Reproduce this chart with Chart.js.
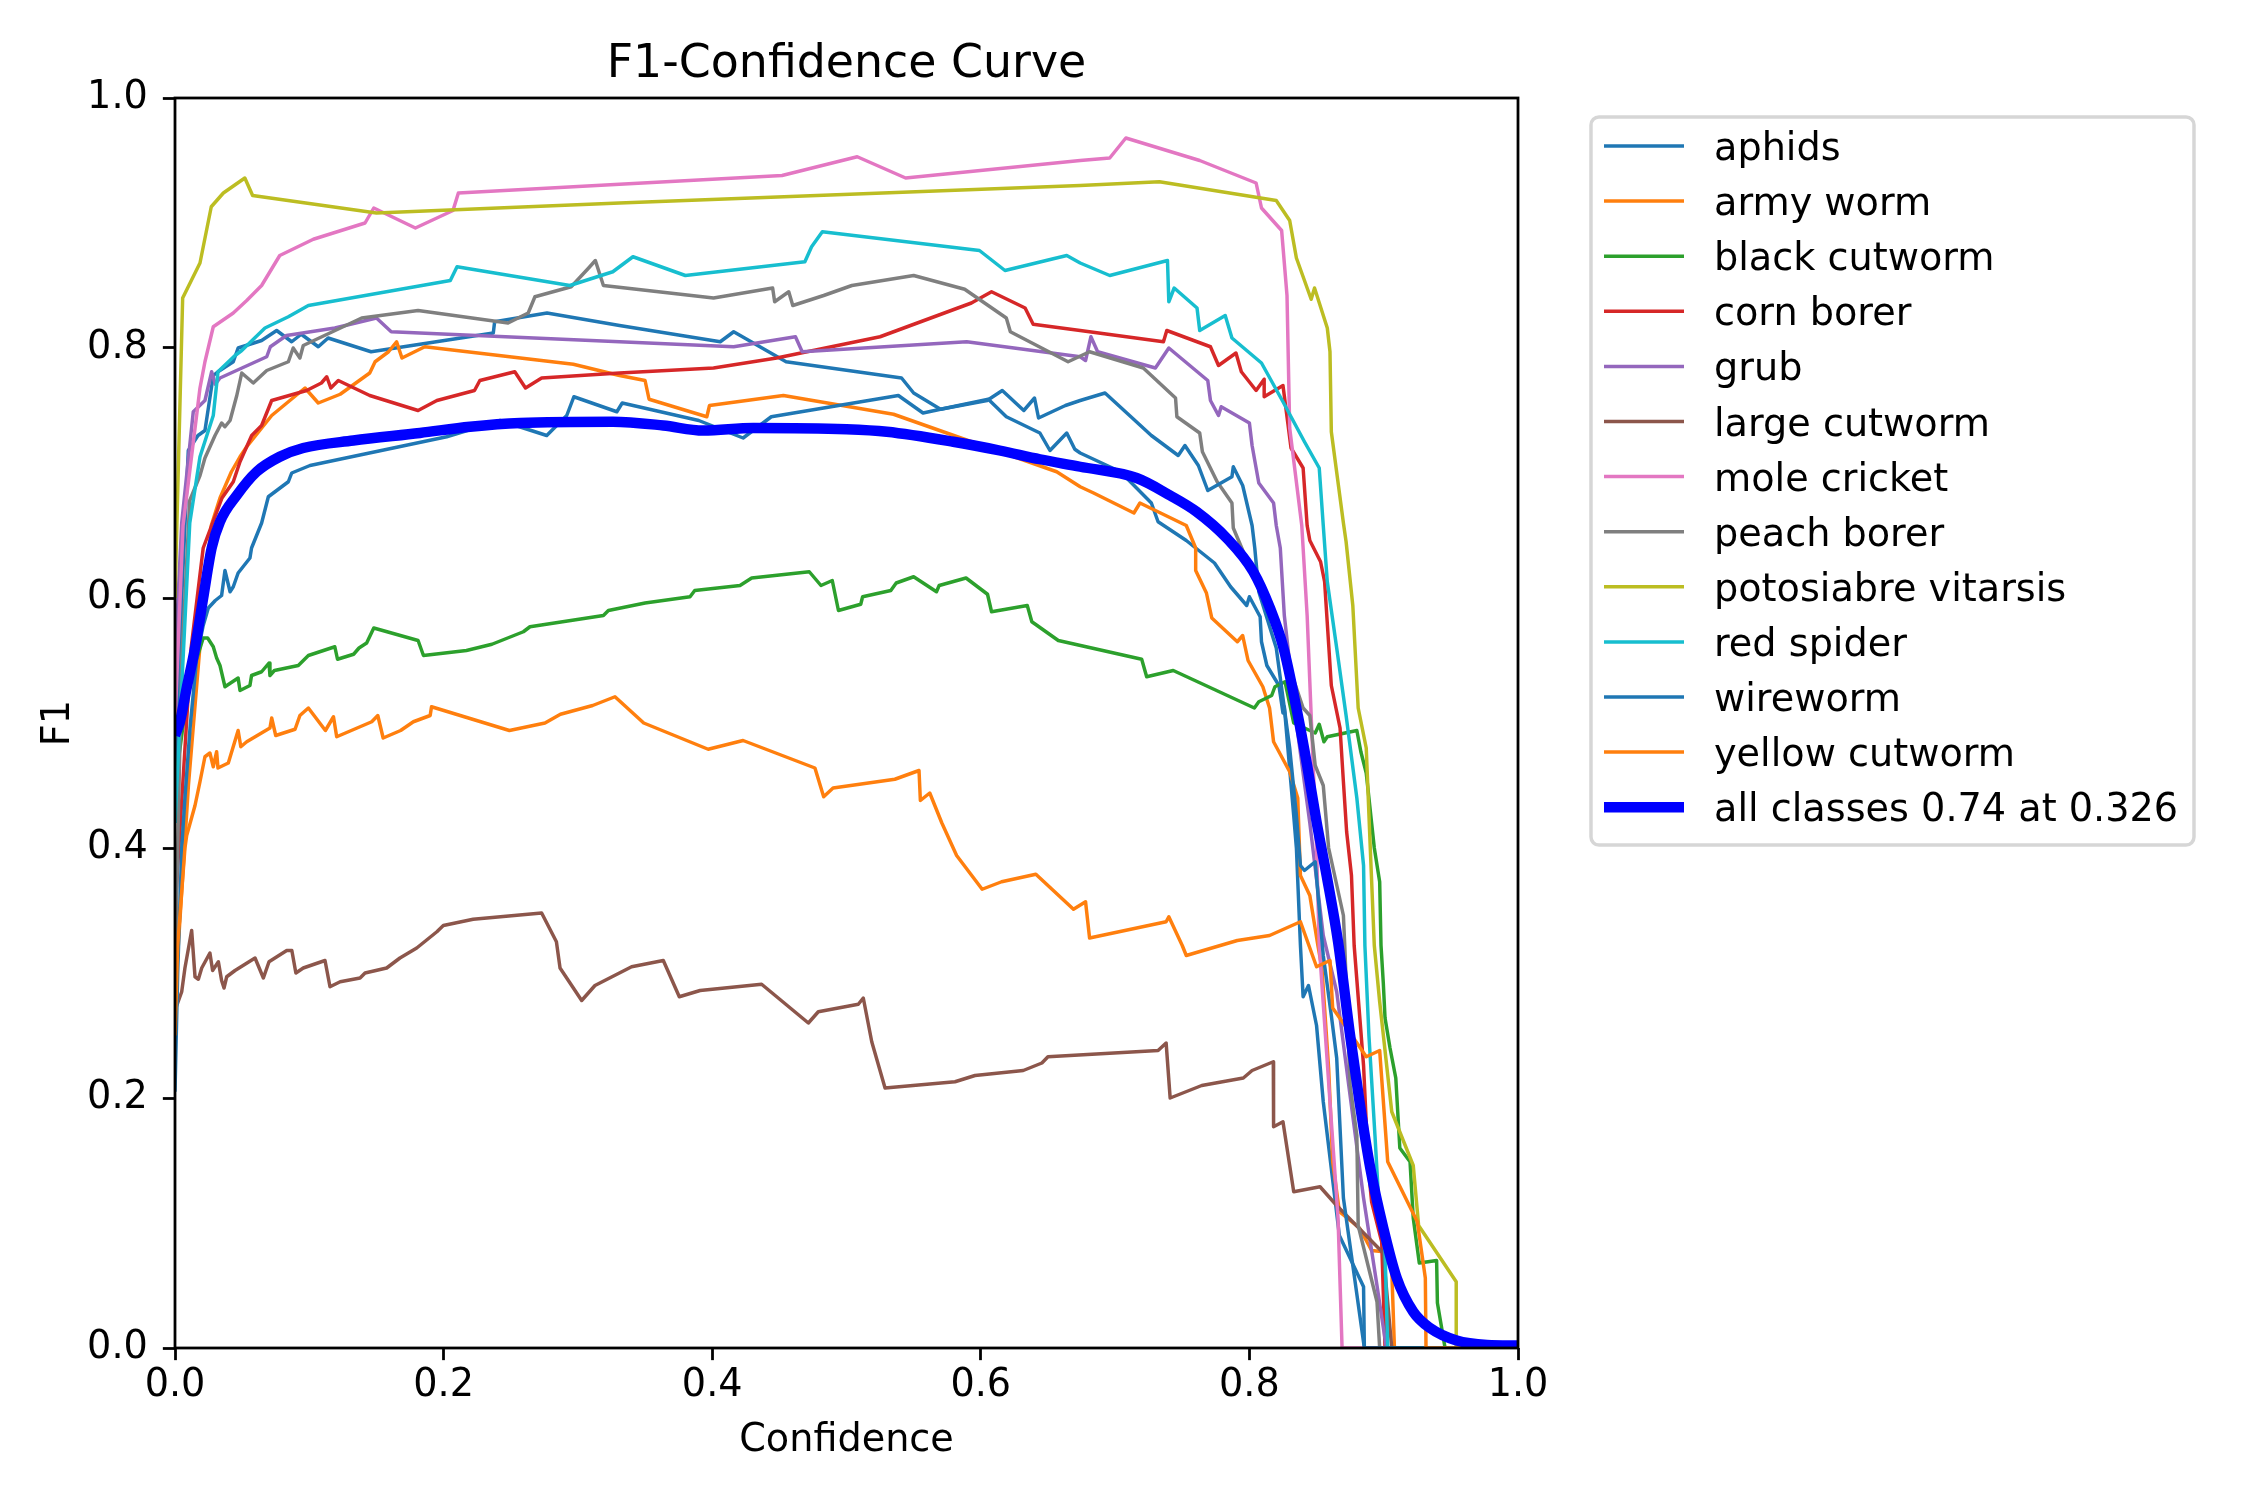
<!DOCTYPE html>
<html>
<head>
<meta charset="utf-8">
<script src="https://cdn.jsdelivr.net/npm/chart.js@4.4.1/dist/chart.umd.min.js"></script>
<style>
  html, body { margin: 0; padding: 0; background: #fff; }
  canvas { display: block; }
</style>
</head>
<body>
<canvas id="f1Chart" width="2250" height="1500"></canvas>
<script>
// classes, in the order of the legend (matplotlib tab10 cycle)
const classNames = ['aphids', 'army worm', 'black cutworm', 'corn borer', 'grub', 'large cutworm',
  'mole cricket', 'peach borer', 'potosiabre vitarsis', 'red spider', 'wireworm', 'yellow cutworm'];
const classColors = ['#1f77b4', '#ff7f0e', '#2ca02c', '#d62728', '#9467bd', '#8c564b',
  '#e377c2', '#7f7f7f', '#bcbd22', '#17becf', '#1f77b4', '#ff7f0e'];

// [confidence, F1]
const aphids = [[0,0.42],[0.005,0.60],[0.0099,0.718],[0.0171,0.730],[0.0223,0.734],[0.0285,0.778],[0.032,0.781],[0.0434,0.789],[0.047,0.800],[0.0645,0.806],[0.0757,0.814],[0.0869,0.805],[0.094,0.811],[0.1067,0.801],[0.114,0.808],[0.146,0.797],[0.237,0.812],[0.238,0.821],[0.277,0.828],[0.331,0.818],[0.406,0.805],[0.416,0.813],[0.455,0.789],[0.541,0.776],[0.550,0.764],[0.570,0.751],[0.6056,0.759],[0.619,0.745],[0.644,0.732],[0.6515,0.718],[0.664,0.732],[0.670,0.719],[0.674,0.716],[0.704,0.701],[0.727,0.676],[0.732,0.661],[0.753,0.646],[0.774,0.628],[0.786,0.609],[0.798,0.594],[0.800,0.601],[0.808,0.585],[0.809,0.565],[0.813,0.546],[0.822,0.530],[0.825,0.508],[0.826,0.513],[0.833,0.426],[0.835,0.400],[0.838,0.322],[0.840,0.281],[0.844,0.290],[0.850,0.258],[0.855,0.197],[0.867,0.090],[0.885,0.049],[0.8856,0],[1,0]];
const armyWorm = [[0,0.28],[0.01,0.45],[0.02,0.58],[0.027,0.658],[0.0335,0.680],[0.042,0.701],[0.0484,0.713],[0.0534,0.721],[0.072,0.746],[0.0968,0.768],[0.1067,0.756],[0.123,0.763],[0.145,0.780],[0.149,0.789],[0.159,0.797],[0.165,0.805],[0.169,0.792],[0.186,0.801],[0.2966,0.787],[0.331,0.778],[0.350,0.774],[0.353,0.759],[0.396,0.745],[0.398,0.754],[0.453,0.762],[0.535,0.747],[0.6565,0.701],[0.674,0.689],[0.684,0.684],[0.714,0.668],[0.7185,0.676],[0.753,0.658],[0.760,0.640],[0.760,0.622],[0.768,0.604],[0.772,0.584],[0.791,0.565],[0.795,0.570],[0.799,0.550],[0.810,0.529],[0.815,0.512],[0.818,0.485],[0.830,0.461],[0.836,0.440],[0.838,0.378],[0.845,0.362],[0.851,0.322],[0.854,0.304],[0.859,0.224],[0.862,0.149],[0.867,0.109],[0.882,0.096],[0.891,0.078],[0.900,0.077],[0.906,0.063],[0.908,0],[1,0]];
const blackCutworm = [[0,0.45],[0.01,0.53],[0.021,0.568],[0.0243,0.568],[0.0285,0.561],[0.031,0.552],[0.0335,0.546],[0.0372,0.529],[0.047,0.536],[0.0484,0.526],[0.0558,0.530],[0.057,0.538],[0.0645,0.541],[0.070,0.548],[0.0707,0.538],[0.074,0.542],[0.0918,0.546],[0.0993,0.554],[0.119,0.561],[0.121,0.551],[0.133,0.555],[0.137,0.560],[0.1427,0.564],[0.148,0.576],[0.181,0.566],[0.185,0.554],[0.217,0.558],[0.236,0.563],[0.2594,0.573],[0.2643,0.577],[0.319,0.586],[0.3227,0.590],[0.350,0.596],[0.3835,0.601],[0.387,0.606],[0.4207,0.610],[0.4294,0.616],[0.4723,0.621],[0.481,0.610],[0.4894,0.614],[0.494,0.590],[0.5106,0.595],[0.512,0.601],[0.533,0.606],[0.537,0.612],[0.550,0.617],[0.567,0.605],[0.569,0.610],[0.589,0.616],[0.605,0.603],[0.608,0.589],[0.6346,0.594],[0.638,0.581],[0.6577,0.566],[0.7198,0.551],[0.7235,0.537],[0.7433,0.542],[0.8037,0.512],[0.807,0.517],[0.8166,0.522],[0.819,0.529],[0.8265,0.533],[0.833,0.50],[0.849,0.492],[0.852,0.499],[0.8555,0.485],[0.858,0.489],[0.880,0.494],[0.883,0.477],[0.887,0.460],[0.891,0.42],[0.893,0.400],[0.897,0.373],[0.898,0.322],[0.8997,0.292],[0.901,0.264],[0.9047,0.240],[0.909,0.216],[0.912,0.160],[0.9196,0.149],[0.922,0.104],[0.9265,0.068],[0.9394,0.070],[0.940,0.036],[0.9457,0],[1,0]];
const cornBorer = [[0,0.35],[0.012,0.56],[0.021,0.640],[0.035,0.68],[0.0434,0.693],[0.0484,0.709],[0.0571,0.730],[0.0645,0.738],[0.072,0.758],[0.098,0.766],[0.109,0.772],[0.113,0.777],[0.116,0.768],[0.1216,0.774],[0.145,0.762],[0.181,0.750],[0.195,0.758],[0.223,0.766],[0.227,0.774],[0.253,0.781],[0.261,0.768],[0.273,0.776],[0.331,0.780],[0.401,0.784],[0.448,0.792],[0.525,0.809],[0.593,0.836],[0.608,0.845],[0.633,0.832],[0.639,0.819],[0.674,0.814],[0.736,0.805],[0.7385,0.814],[0.771,0.801],[0.777,0.786],[0.790,0.796],[0.794,0.781],[0.805,0.766],[0.811,0.775],[0.811,0.761],[0.825,0.770],[0.831,0.720],[0.840,0.704],[0.843,0.658],[0.845,0.646],[0.853,0.629],[0.856,0.613],[0.861,0.530],[0.8675,0.496],[0.870,0.453],[0.8724,0.413],[0.876,0.378],[0.878,0.322],[0.885,0.226],[0.8886,0.144],[0.891,0.117],[0.8985,0.085],[0.901,0],[1,0]];
const grub = [[0,0.55],[0.005,0.66],[0.0136,0.749],[0.0223,0.758],[0.0273,0.781],[0.030,0.771],[0.0335,0.776],[0.0683,0.793],[0.071,0.801],[0.083,0.810],[0.119,0.816],[0.150,0.824],[0.161,0.813],[0.331,0.805],[0.416,0.801],[0.462,0.809],[0.467,0.797],[0.5895,0.805],[0.674,0.793],[0.678,0.790],[0.682,0.809],[0.687,0.797],[0.730,0.784],[0.740,0.800],[0.769,0.774],[0.771,0.758],[0.777,0.746],[0.779,0.753],[0.800,0.740],[0.802,0.722],[0.807,0.692],[0.818,0.676],[0.820,0.658],[0.823,0.640],[0.826,0.586],[0.835,0.50],[0.845,0.42],[0.855,0.33],[0.865,0.285],[0.874,0.210],[0.885,0.12],[0.895,0.05],[0.902,0],[1,0]];
const largeCutworm = [[0,0.27],[0.005,0.285],[0.0074,0.304],[0.0124,0.334],[0.0149,0.297],[0.0174,0.295],[0.0199,0.304],[0.026,0.316],[0.028,0.302],[0.0323,0.309],[0.0347,0.294],[0.0365,0.288],[0.0385,0.297],[0.0447,0.302],[0.0596,0.312],[0.0658,0.296],[0.070,0.309],[0.0832,0.318],[0.087,0.318],[0.090,0.300],[0.0955,0.304],[0.1117,0.310],[0.1154,0.289],[0.123,0.293],[0.1378,0.296],[0.1415,0.300],[0.1576,0.304],[0.1675,0.312],[0.180,0.320],[0.195,0.333],[0.1998,0.338],[0.222,0.343],[0.273,0.348],[0.284,0.325],[0.2867,0.304],[0.3028,0.278],[0.3127,0.290],[0.340,0.305],[0.3636,0.310],[0.3755,0.281],[0.391,0.286],[0.4368,0.291],[0.4716,0.260],[0.479,0.269],[0.5088,0.275],[0.5125,0.280],[0.5188,0.245],[0.5287,0.208],[0.5808,0.213],[0.5957,0.218],[0.6316,0.222],[0.6455,0.228],[0.650,0.233],[0.732,0.238],[0.738,0.244],[0.741,0.200],[0.7645,0.210],[0.7955,0.216],[0.802,0.222],[0.8178,0.229],[0.818,0.177],[0.825,0.181],[0.833,0.125],[0.8526,0.129],[0.865,0.114],[0.8997,0.076],[0.906,0],[1,0]];
const moleCricket = [[0,0.50],[0.006,0.658],[0.0186,0.768],[0.0223,0.789],[0.0285,0.817],[0.0434,0.828],[0.0534,0.838],[0.0645,0.850],[0.078,0.874],[0.103,0.887],[0.1415,0.900],[0.148,0.912],[0.179,0.896],[0.207,0.910],[0.211,0.924],[0.331,0.931],[0.452,0.938],[0.508,0.953],[0.544,0.936],[0.674,0.950],[0.696,0.952],[0.708,0.968],[0.763,0.950],[0.805,0.932],[0.809,0.912],[0.824,0.894],[0.828,0.842],[0.830,0.736],[0.839,0.658],[0.843,0.586],[0.846,0.506],[0.850,0.40],[0.852,0.322],[0.860,0.197],[0.866,0.104],[0.869,0],[1,0]];
const peachBorer = [[0,0.30],[0.005,0.55],[0.011,0.678],[0.0186,0.698],[0.0223,0.712],[0.0298,0.730],[0.0347,0.740],[0.0372,0.737],[0.041,0.742],[0.046,0.762],[0.0497,0.780],[0.0583,0.772],[0.0683,0.782],[0.0844,0.789],[0.088,0.800],[0.093,0.792],[0.0955,0.802],[0.139,0.824],[0.181,0.830],[0.248,0.820],[0.263,0.828],[0.268,0.841],[0.295,0.849],[0.308,0.864],[0.313,0.870],[0.319,0.850],[0.401,0.840],[0.445,0.848],[0.4465,0.837],[0.457,0.845],[0.460,0.834],[0.483,0.842],[0.504,0.850],[0.550,0.858],[0.588,0.847],[0.619,0.824],[0.622,0.813],[0.665,0.789],[0.681,0.797],[0.721,0.784],[0.745,0.760],[0.746,0.745],[0.763,0.732],[0.765,0.717],[0.776,0.693],[0.787,0.676],[0.788,0.656],[0.81,0.60],[0.825,0.56],[0.840,0.512],[0.845,0.506],[0.849,0.466],[0.855,0.450],[0.859,0.400],[0.870,0.346],[0.871,0.322],[0.875,0.210],[0.880,0.170],[0.881,0.098],[0.895,0.037],[0.897,0],[1,0]];
const potosiabreVitarsis = [[0,0.60],[0.0057,0.84],[0.0186,0.868],[0.027,0.913],[0.036,0.924],[0.052,0.936],[0.0578,0.922],[0.150,0.908],[0.331,0.916],[0.674,0.930],[0.733,0.933],[0.820,0.918],[0.830,0.902],[0.835,0.872],[0.846,0.839],[0.8485,0.848],[0.858,0.816],[0.860,0.797],[0.861,0.733],[0.870,0.660],[0.872,0.645],[0.877,0.594],[0.881,0.512],[0.887,0.480],[0.890,0.400],[0.893,0.322],[0.897,0.277],[0.906,0.189],[0.922,0.146],[0.926,0.098],[0.954,0.053],[0.954,0],[1,0]];
const redSpider = [[0,0.42],[0.011,0.66],[0.0186,0.713],[0.0285,0.746],[0.032,0.781],[0.0447,0.794],[0.0497,0.798],[0.067,0.816],[0.0844,0.825],[0.0993,0.834],[0.205,0.854],[0.210,0.865],[0.294,0.850],[0.326,0.861],[0.341,0.873],[0.380,0.858],[0.469,0.869],[0.474,0.881],[0.482,0.893],[0.599,0.878],[0.618,0.862],[0.664,0.874],[0.674,0.868],[0.696,0.858],[0.739,0.870],[0.740,0.837],[0.744,0.848],[0.761,0.832],[0.763,0.814],[0.782,0.826],[0.787,0.808],[0.809,0.788],[0.825,0.757],[0.841,0.725],[0.852,0.704],[0.855,0.658],[0.858,0.613],[0.865,0.560],[0.872,0.506],[0.880,0.440],[0.885,0.386],[0.886,0.322],[0.889,0.250],[0.8935,0.170],[0.897,0.104],[0.901,0.077],[0.903,0],[1,0]];
const wireworm = [[0,0.205],[0.002,0.30],[0.005,0.40],[0.0074,0.44],[0.0112,0.496],[0.0149,0.538],[0.0161,0.552],[0.021,0.578],[0.0248,0.592],[0.030,0.598],[0.0347,0.602],[0.0372,0.622],[0.041,0.605],[0.0434,0.609],[0.047,0.620],[0.0558,0.632],[0.057,0.640],[0.0645,0.660],[0.0695,0.681],[0.0844,0.693],[0.0869,0.700],[0.1005,0.706],[0.2023,0.729],[0.242,0.742],[0.2768,0.730],[0.2917,0.746],[0.297,0.761],[0.329,0.749],[0.333,0.756],[0.390,0.742],[0.423,0.728],[0.444,0.745],[0.5386,0.762],[0.557,0.748],[0.570,0.751],[0.6047,0.758],[0.616,0.766],[0.632,0.750],[0.640,0.760],[0.643,0.744],[0.663,0.754],[0.674,0.758],[0.6925,0.764],[0.727,0.730],[0.747,0.714],[0.752,0.722],[0.762,0.706],[0.769,0.686],[0.787,0.697],[0.788,0.705],[0.795,0.690],[0.802,0.658],[0.804,0.640],[0.807,0.605],[0.820,0.560],[0.830,0.480],[0.835,0.426],[0.838,0.386],[0.841,0.382],[0.849,0.389],[0.855,0.314],[0.861,0.266],[0.865,0.232],[0.870,0.12],[0.8856,0],[1,0]];
const yellowCutworm = [[0,0.25],[0.002,0.322],[0.0074,0.400],[0.0087,0.41],[0.0149,0.434],[0.0186,0.453],[0.0223,0.473],[0.026,0.476],[0.0285,0.465],[0.031,0.477],[0.032,0.464],[0.0397,0.468],[0.047,0.494],[0.049,0.481],[0.0534,0.485],[0.0707,0.496],[0.072,0.504],[0.075,0.490],[0.0894,0.495],[0.093,0.506],[0.0993,0.512],[0.112,0.494],[0.118,0.505],[0.1204,0.489],[0.1465,0.501],[0.151,0.506],[0.155,0.488],[0.168,0.494],[0.1775,0.501],[0.190,0.506],[0.191,0.513],[0.249,0.494],[0.2755,0.500],[0.287,0.507],[0.311,0.514],[0.3276,0.521],[0.349,0.500],[0.397,0.479],[0.423,0.486],[0.4765,0.464],[0.483,0.441],[0.490,0.448],[0.536,0.455],[0.554,0.462],[0.555,0.438],[0.562,0.444],[0.571,0.420],[0.582,0.394],[0.601,0.367],[0.6155,0.373],[0.641,0.379],[0.669,0.351],[0.678,0.357],[0.681,0.328],[0.738,0.341],[0.740,0.345],[0.750,0.322],[0.753,0.314],[0.791,0.326],[0.815,0.330],[0.838,0.341],[0.850,0.305],[0.860,0.310],[0.862,0.272],[0.8725,0.256],[0.887,0.233],[0.897,0.238],[0.903,0.149],[0.925,0.101],[0.931,0.056],[0.9315,0],[1,0]];

const allClasses = [[0,0.490],[0.0037,0.501],[0.0087,0.528],[0.0149,0.560],[0.021,0.600],[0.0273,0.640],[0.0335,0.661],[0.0459,0.682],[0.0608,0.701],[0.078,0.713],[0.0955,0.720],[0.1328,0.726],[0.1824,0.732],[0.2197,0.737],[0.257,0.740],[0.326,0.741],[0.3636,0.738],[0.3934,0.734],[0.4306,0.736],[0.500,0.735],[0.530,0.733],[0.5795,0.725],[0.614,0.718],[0.644,0.711],[0.674,0.705],[0.716,0.696],[0.741,0.682],[0.7607,0.669],[0.783,0.648],[0.8029,0.621],[0.8153,0.592],[0.8254,0.560],[0.835,0.512],[0.843,0.466],[0.850,0.421],[0.8575,0.378],[0.866,0.325],[0.875,0.250],[0.882,0.197],[0.890,0.144],[0.8997,0.096],[0.9097,0.056],[0.922,0.029],[0.9345,0.016],[0.9543,0.006],[0.977,0.0025],[1,0.002]];
const allLabel = 'all classes 0.74 at 0.326';

const tickValues = [0, 0.2, 0.4, 0.6, 0.8, 1.0];

const classSeries = [aphids, armyWorm, blackCutworm, cornBorer, grub, largeCutworm,
  moleCricket, peachBorer, potosiabreVitarsis, redSpider, wireworm, yellowCutworm];

const FONT = '"DejaVu Sans", sans-serif';
const PX = 250 / 72; // matplotlib points -> pixels at dpi 250

const toXY = (pairs) => pairs.map(p => ({ x: p[0], y: p[1] }));

const datasets = classNames.map((name, i) => ({
  label: name,
  data: toXY(classSeries[i]),
  borderColor: classColors[i],
  backgroundColor: classColors[i],
  borderWidth: 1 * PX,
  pointRadius: 0,
  tension: 0,
  fill: false,
  clip: 0,
  borderJoinStyle: 'round',
  order: classNames.length - i
}));
datasets.push({
  label: allLabel,
  data: toXY(allClasses),
  borderColor: '#0000ff',
  backgroundColor: '#0000ff',
  borderWidth: 3 * PX,
  pointRadius: 0,
  cubicInterpolationMode: 'monotone',
  fill: false,
  clip: 0,
  borderJoinStyle: 'round',
  order: 0
});

// title, frame, axis titles and the legend, matplotlib style
const decorPlugin = {
  id: 'decor',
  afterDraw(chart) {
    const ctx = chart.ctx;
    const a = chart.chartArea;
    const cx = (a.left + a.right) / 2;
    ctx.save();
    ctx.strokeStyle = '#000';
    ctx.lineWidth = 0.8 * PX;
    ctx.strokeRect(a.left, a.top, a.right - a.left, a.bottom - a.top);

    ctx.fillStyle = '#000';
    ctx.textAlign = 'center';
    ctx.textBaseline = 'alphabetic';
    ctx.font = (13.2 * PX) + 'px ' + FONT;
    ctx.fillText('F1-Confidence Curve', cx, 77);

    ctx.font = (11 * PX) + 'px ' + FONT;
    ctx.fillText('Confidence', cx, 1451);
    ctx.save();
    ctx.translate(69, (a.top + a.bottom) / 2);
    ctx.rotate(-Math.PI / 2);
    ctx.fillText('F1', 0, 0);
    ctx.restore();

    // legend box
    const bx = 1591, by = 117, bw = 603, bh = 728;
    ctx.beginPath();
    if (ctx.roundRect) ctx.roundRect(bx, by, bw, bh, 8);
    else ctx.rect(bx, by, bw, bh);
    ctx.fillStyle = 'rgba(255,255,255,0.8)';
    ctx.fill();
    ctx.strokeStyle = 'rgba(204,204,204,0.8)';
    ctx.lineWidth = 1 * PX;
    ctx.stroke();

    ctx.textAlign = 'left';
    chart.data.datasets.forEach((ds, i) => {
      const y = 146 + i * 55.1;
      ctx.beginPath();
      ctx.strokeStyle = ds.borderColor;
      ctx.lineWidth = ds.borderWidth;
      ctx.moveTo(1604, y);
      ctx.lineTo(1684, y);
      ctx.stroke();
      ctx.fillStyle = '#000';
      ctx.fillText(ds.label, 1714, y + 14);
    });
    ctx.restore();
  }
};

const axisCommon = {
  type: 'linear',
  min: 0,
  max: 1,
  afterBuildTicks: (scale) => { scale.ticks = tickValues.map(v => ({ value: v })); },
  border: { display: false },
  grid: {
    drawOnChartArea: false,
    drawTicks: true,
    tickLength: 3.5 * PX,
    tickWidth: 0.8 * PX,
    tickColor: '#000'
  }
};

new Chart(document.getElementById('f1Chart'), {
  type: 'line',
  data: { datasets: datasets },
  options: {
    responsive: false,
    devicePixelRatio: 1,
    animation: false,
    layout: { padding: { left: 0, top: 98, right: 732, bottom: 0 } },
    plugins: {
      legend: { display: false },
      title: { display: false },
      tooltip: { enabled: false }
    },
    scales: {
      x: Object.assign({}, axisCommon, {
        position: 'bottom',
        afterFit: (scale) => { scale.height = 152; },
        ticks: {
          padding: 3,
          color: '#000',
          maxRotation: 0,
          font: { family: FONT, size: 11 * PX },
          callback: (v) => Number(v).toFixed(1)
        }
      }),
      y: Object.assign({}, axisCommon, {
        position: 'left',
        afterFit: (scale) => { scale.width = 175; },
        ticks: {
          padding: 15,
          color: '#000',
          font: { family: FONT, size: 11 * PX },
          callback: (v) => Number(v).toFixed(1)
        }
      })
    }
  },
  plugins: [decorPlugin]
});
</script>
</body>
</html>
